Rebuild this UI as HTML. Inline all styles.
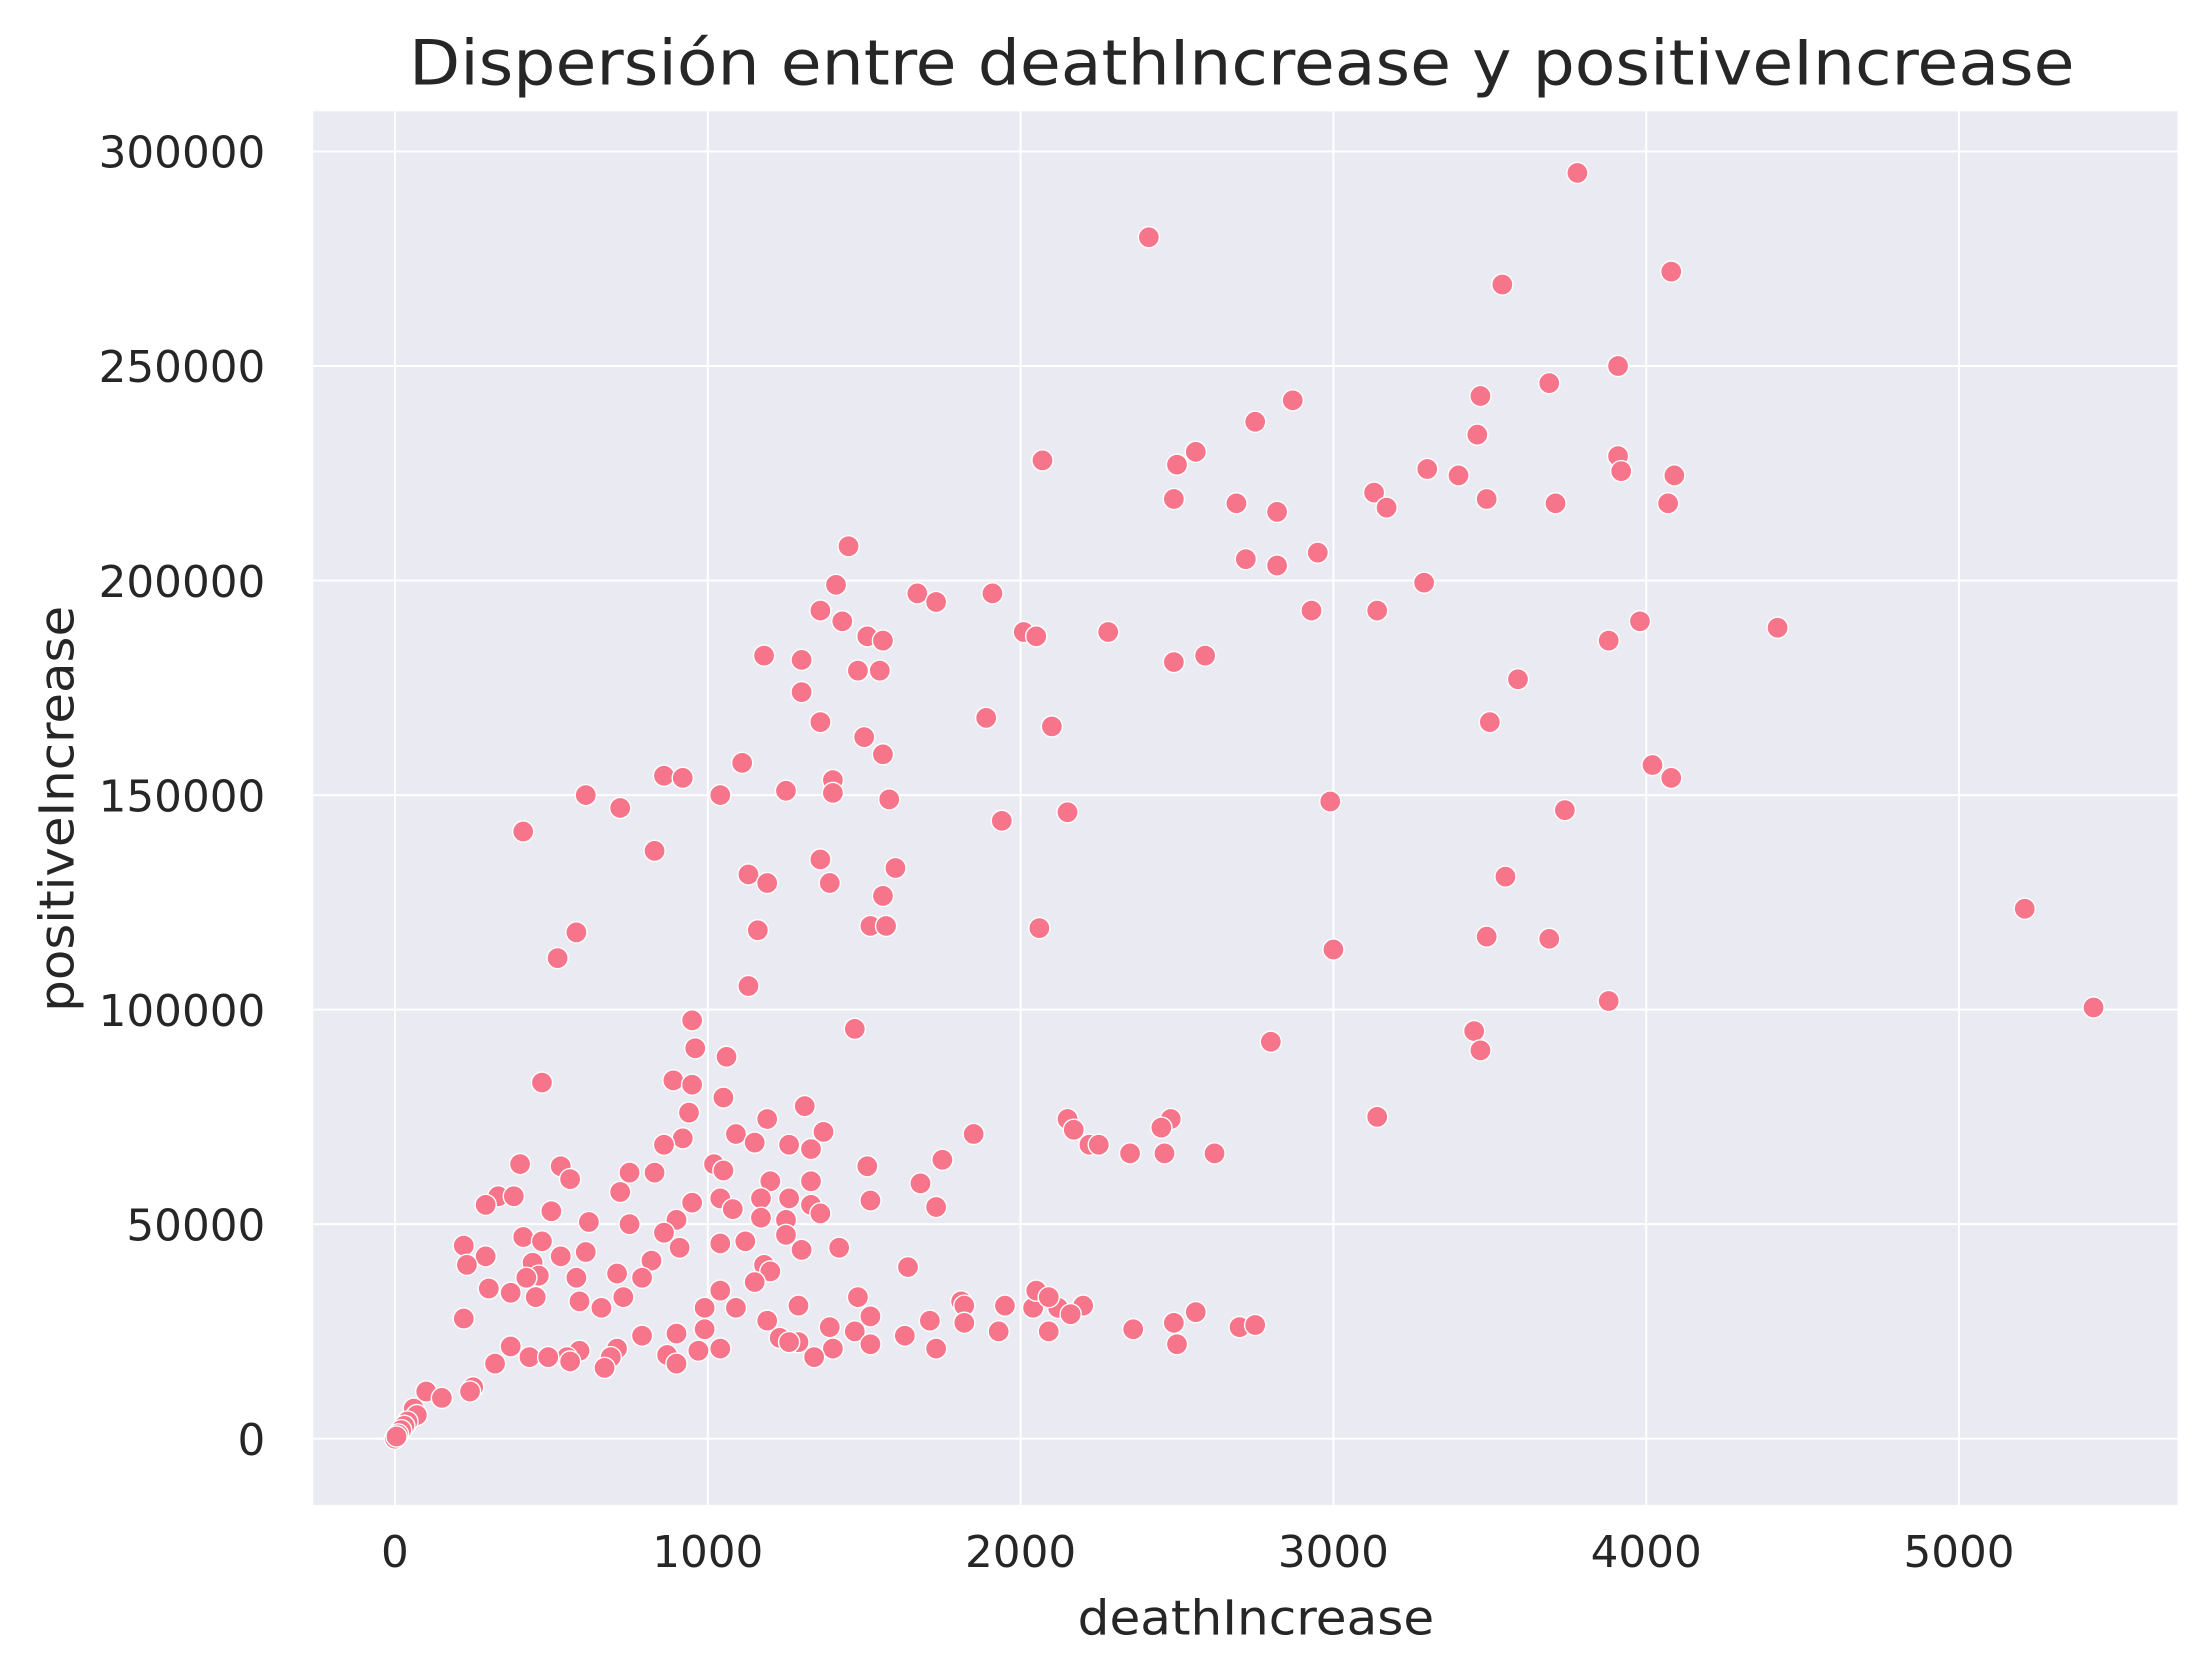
<!DOCTYPE html>
<html><head><meta charset="utf-8"><style>
html,body{margin:0;padding:0;background:#fff;}
svg{display:block;font-family:"DejaVu Sans","Liberation Sans",sans-serif;}
</style></head><body>
<svg id="chart" width="2199" height="1674" viewBox="0 0 1560 1188" xmlns="http://www.w3.org/2000/svg">
<rect x="0" y="0" width="1560" height="1188" fill="#ffffff"/>
<rect x="222" y="79" width="1323" height="989" fill="#eaeaf2"/>
<g id="grid"></g>
<g id="ticks"></g>
<g id="points"></g>
<text x="881" y="60" text-anchor="middle" font-size="44" textLength="1182" lengthAdjust="spacingAndGlyphs" fill="#262626">Dispersión entre deathIncrease y positiveIncrease</text>
<text x="891" y="1160" text-anchor="middle" font-size="34" textLength="253" lengthAdjust="spacingAndGlyphs" fill="#262626">deathIncrease</text>
<text transform="translate(52,574) rotate(-90)" text-anchor="middle" font-size="34" textLength="288" lengthAdjust="spacingAndGlyphs" fill="#262626">positiveIncrease</text>
</svg>
<script>
const xTicks=[0,1000,2000,3000,4000,5000];
const yTicks=[0,50000,100000,150000,200000,250000,300000];
const deathIncrease=[3780,2410,4080,3540,3910,3690,3470,2870,2750,3460,2560,3910,2070,2500,3300,3920,3400,4090,3130,2490,3490,2690,3710,4070,3170,2820,2950,2720,2820,3290,1410,1450,1670,1910,1730,2930,3140,1360,1430,3980,4420,2280,2010,2050,1510,1560,3880,1180,1300,2590,2490,1480,1550,3590,1300,1890,1360,3500,2100,1500,1560,4020,1110,860,920,4080,1400,1400,1040,1250,610,2990,1580,720,2150,3740,410,1940,830,1360,1600,1130,3550,1190,1390,1560,5210,1520,1570,2060,580,1160,3490,3690,3000,520,1130,3880,5430,950,1470,3450,2800,3470,960,1060,890,470,950,1050,1310,940,1190,2150,2480,3140,2450,2170,1370,1090,1850,920,860,1150,1260,2220,2250,1330,2350,2460,2620,1750,400,530,1020,1510,1050,830,750,560,1200,1330,1680,720,330,380,1040,1520,1170,1260,290,1330,1730,1080,500,1360,950,900,1250,1170,620,750,860,1250,410,470,1120,1040,220,1420,910,1300,610,530,290,820,440,230,1180,1200,460,580,420,710,790,1150,1040,370,300,450,730,1480,1810,590,1820,1290,1950,2200,2120,2040,990,1090,660,1520,2160,2560,220,1190,1710,1820,2490,2700,2750,2360,1390,1930,2090,1470,990,900,790,1630,1230,1290,1520,2500,1730,1040,970,710,370,1400,590,430,550,490,320,1340,870,690,560,900,670,250,240,100,150,60,70,40,30,20,10,0,5,1640,2050,2090,1260];
const positiveIncrease=[295000,280000,272000,269000,250000,246000,243000,242000,237000,234000,230000,229000,228000,227000,226000,225500,224500,224500,220500,219000,219000,218000,218000,218000,217000,216000,206500,205000,203500,199500,199000,208000,197000,197000,195000,193000,193000,193000,190500,190500,189000,188000,188000,187000,187000,186000,186000,182500,181500,182500,181000,179000,179000,177000,174000,168000,167000,167000,166000,163500,159500,157000,157500,154500,154000,154000,153500,150500,150000,151000,150000,148500,149000,147000,146000,146500,141500,144000,137000,135000,133000,131500,131000,129500,129500,126500,123500,119500,119500,119000,118000,118500,117000,116500,114000,112000,105500,102000,100500,97500,95500,95000,92500,90500,91000,89000,83500,83000,82500,79500,77500,76000,74500,74500,74500,75000,72500,72000,71500,71000,71000,70000,68500,69000,68500,68500,68500,67500,66500,66500,66500,65000,64000,63500,64000,63500,62500,62000,62000,60500,60000,60000,59500,57500,56500,56500,56000,55500,56000,56000,54500,54500,54000,53500,53000,52500,55000,51000,51000,51500,50500,50000,48000,47500,47000,46000,46000,45500,45000,44500,44500,44000,43500,42500,42500,41500,41000,40500,40500,39000,38000,37500,37500,38500,37500,36500,34500,34000,35000,33000,33000,33000,32000,32000,31000,31000,31000,31000,30500,30500,30500,30500,30500,28500,29000,29500,28000,27500,27500,27000,27000,26000,26500,25500,26000,25000,25000,25000,25500,24500,24000,24000,23500,22500,22000,22000,21000,21000,20500,21000,21500,21000,20500,19000,19000,19000,17500,19000,19500,19000,18000,17500,16500,12000,11000,11000,9500,7000,5500,4000,3000,2000,1000,0,500,40000,34500,33000,22500];
const NS="http://www.w3.org/2000/svg";
const L=222,R=1545,T=79,B=1068;
function xs(v){return 280+(v-0)*(1390-280)/5000;}
function ys(v){return 1021-(v-0)*(1021-107.5)/300000;}
function mk(tag,attrs,parent){const e=document.createElementNS(NS,tag);for(const k in attrs)e.setAttribute(k,attrs[k]);parent.appendChild(e);return e;}
const grid=document.getElementById('grid'),ticks=document.getElementById('ticks'),pts=document.getElementById('points');
xTicks.forEach(t=>{
  const l=mk('line',{x1:xs(t),x2:xs(t),y1:T,y2:B,stroke:'#ffffff','stroke-width':1.4},grid);
  
  
  const tx=mk('text',{x:xs(t),y:1112,'text-anchor':'middle','font-size':31,fill:'#262626'},ticks);
  tx.textContent=String(t);
  
  
});
yTicks.forEach(t=>{
  const l=mk('line',{x1:L,x2:R,y1:ys(t),y2:ys(t),stroke:'#ffffff','stroke-width':1.4},grid);
  
  
  const tx=mk('text',{x:188,y:ys(t)+11.5,'text-anchor':'end','font-size':31,fill:'#262626'},ticks);
  tx.textContent=String(t);
  
  
});
deathIncrease.forEach((d,i)=>{
  const c=mk('circle',{cx:xs(d),cy:ys(positiveIncrease[i]),r:7.5,fill:'#f7758b',stroke:'#ffffff','stroke-width':1},pts);
  
  
});
</script>
</body></html>
